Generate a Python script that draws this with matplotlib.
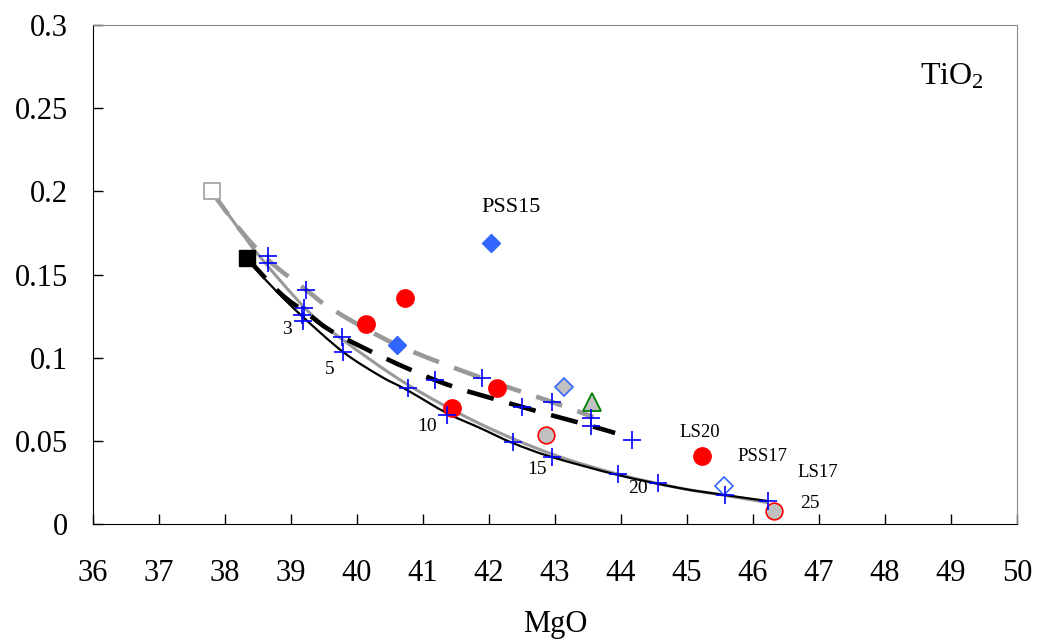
import matplotlib.pyplot as plt
from matplotlib.path import Path
from matplotlib.patches import PathPatch

plt.rcParams['font.family'] = ['Liberation Serif', 'DejaVu Serif']
plt.rcParams['mathtext.default'] = 'regular'

# end members
start_open_sq = (37.8, 0.20)
start_black_sq = (38.33, 0.160)

# model curves
black_solid_x = [38.33, 38.41, 38.79, 39.18, 39.79, 40.35, 40.76, 41.36, 41.86, 42.36, 42.95, 43.95, 44.89, 45.58, 46.23]
black_solid_y = [0.160, 0.1557, 0.1395, 0.1245, 0.1034, 0.0890, 0.0805, 0.0667, 0.0578, 0.0487, 0.0403, 0.0295, 0.0216, 0.0174, 0.0138]

gray_solid_x = [37.80, 38.20, 38.53, 39.24, 39.79, 40.76, 41.86, 42.95, 43.95, 44.89, 45.58, 46.23]
gray_solid_y = [0.1996, 0.1780, 0.1606, 0.1287, 0.1106, 0.0840, 0.0603, 0.0421, 0.0300, 0.0216, 0.0172, 0.0128]

gray_dash_x = [37.80, 38.23, 38.65, 39.23, 39.64, 40.61, 41.89, 42.95, 43.58]
gray_dash_y = [0.1996, 0.1768, 0.1588, 0.1407, 0.1287, 0.1076, 0.0878, 0.0734, 0.0643]

black_dash_x = [38.33, 38.83, 39.23, 39.77, 41.18, 42.50, 43.55, 43.91]
black_dash_y = [0.160, 0.139, 0.127, 0.1125, 0.0866, 0.0704, 0.0589, 0.0547]

# model steps (+)
plus_x = [38.65, 38.65, 39.23, 39.20, 39.17, 39.18, 39.77, 39.79, 40.77, 41.18, 41.36, 41.89,
          42.36, 42.50, 42.95, 42.95, 43.55, 43.55, 43.96, 44.17, 44.56, 45.58, 46.23]
plus_y = [0.161, 0.157, 0.1407, 0.130, 0.1257, 0.1220, 0.1125, 0.1034, 0.0818, 0.0866, 0.0655, 0.0878,
          0.0494, 0.0704, 0.0734, 0.0403, 0.0637, 0.0589, 0.0300, 0.0505, 0.0246, 0.0174, 0.0140]

# samples
red_x = [40.73, 40.14, 41.44, 42.12, 45.23]
red_y = [0.136, 0.120, 0.0698, 0.0818, 0.0409]
grey_circ_x = [42.86, 46.32]
grey_circ_y = [0.0535, 0.0078]
blue_dia_x = [42.03, 40.60]
blue_dia_y = [0.169, 0.1076]
grey_dia = (43.14, 0.0824)
open_dia = (45.56, 0.0229)
triangle = (43.56, 0.0734)

step_labels = ['3', '5', '10', '15', '20', '25']
step_lx = [38.94, 39.59, 41.06, 42.73, 44.26, 46.86]
step_ly = [0.1167, 0.0926, 0.0589, 0.0325, 0.0216, 0.0126]

sample_labels = ['PSS15', 'LS20', 'PSS17', 'LS17']
sample_lx = [42.33, 45.20, 46.15, 46.98]
sample_ly = [0.190, 0.0553, 0.0403, 0.0307]
sample_fs = [16, 13.5, 13.5, 13.5]


def smooth_path(xs, ys):
    # smoothed line through the points (Bezier segments, like a spreadsheet "smoothed line")
    pts = list(zip(xs, ys))
    n = len(pts)
    verts = [pts[0]]
    codes = [Path.MOVETO]
    for i in range(n - 1):
        p0 = pts[i - 1] if i > 0 else pts[i]
        p1 = pts[i]
        p2 = pts[i + 1]
        p3 = pts[i + 2] if i + 2 < n else pts[i + 1]
        c1 = (p1[0] + (p2[0] - p0[0]) / 6, p1[1] + (p2[1] - p0[1]) / 6)
        c2 = (p2[0] - (p3[0] - p1[0]) / 6, p2[1] - (p3[1] - p1[1]) / 6)
        verts += [c1, c2, p2]
        codes += [Path.CURVE4] * 3
    return Path(verts, codes)


fig = plt.figure(figsize=(10.37, 6.44), dpi=100)
ax = fig.add_axes([0.0897, 0.1863, 0.891, 0.7749])

ax.add_patch(PathPatch(smooth_path(gray_solid_x, gray_solid_y), fill=False, ec='#999999', lw=2.2, zorder=2))
ax.add_patch(PathPatch(smooth_path(black_solid_x, black_solid_y), fill=False, ec='black', lw=1.6, zorder=2))
ax.add_patch(PathPatch(smooth_path(gray_dash_x, gray_dash_y), fill=False, ec='#999999', lw=3.3,
                       ls=(0, (6, 3.5)), capstyle='butt', zorder=2))
ax.add_patch(PathPatch(smooth_path(black_dash_x, black_dash_y), fill=False, ec='black', lw=3.3,
                       ls=(0, (6, 3.5)), capstyle='butt', zorder=2))

ax.plot(plus_x, plus_y, '+', color='#0000FF', ms=12.5, mew=1.2, ls='none', zorder=4)

ax.plot(*start_open_sq, 's', ms=12, mfc='white', mec='#A0A0A0', mew=1.2, zorder=3)
ax.plot(*start_black_sq, 's', ms=12, mfc='black', mec='black', zorder=3)

ax.plot(red_x, red_y, 'o', ms=12.5, mfc='#FF0000', mec='#FF0000', ls='none', zorder=3)
ax.plot(grey_circ_x, grey_circ_y, 'o', ms=12, mfc='#C0C0C0', mec='#FF0000', mew=1.2, ls='none', zorder=3)
ax.plot(blue_dia_x, blue_dia_y, 'D', ms=9, mfc='#3366FF', mec='#3366FF', ls='none', zorder=3)
ax.plot(*grey_dia, 'D', ms=9, mfc='#C0C0C0', mec='#3366FF', mew=1.2, zorder=3)
ax.plot(*open_dia, 'D', ms=9, mfc='white', mec='#3366FF', mew=1.2, zorder=3)
ax.plot(*triangle, '^', ms=13, mfc='#C0C0C0', mec='#008000', mew=1.3, zorder=3)

for t, x, y in zip(step_labels, step_lx, step_ly):
    ax.text(x, y, t, fontsize=14, ha='center', va='center')
for t, x, y, fs in zip(sample_labels, sample_lx, sample_ly, sample_fs):
    ax.text(x, y, t, fontsize=fs, ha='center', va='center')
ax.text(49.02, 0.269, 'TiO$_2$', fontsize=23, ha='center', va='center')

ax.set_xlim(36, 50)
ax.set_ylim(0, 0.3)
ax.set_xticks(range(36, 51))
ax.set_yticks([0, 0.05, 0.1, 0.15, 0.2, 0.25, 0.3])
ax.set_yticklabels(['0', '0.05', '0.1', '0.15', '0.2', '0.25', '0.3'])
ax.tick_params(direction='in', length=7, width=1, labelsize=22, top=False, right=False)
ax.tick_params(axis='x', pad=25)
ax.tick_params(axis='y', pad=18)
for s in ['top', 'right']:
    ax.spines[s].set_color('#888888')
ax.set_xlabel('MgO', fontsize=22, labelpad=16)

plt.savefig('out.png', dpi=100)
